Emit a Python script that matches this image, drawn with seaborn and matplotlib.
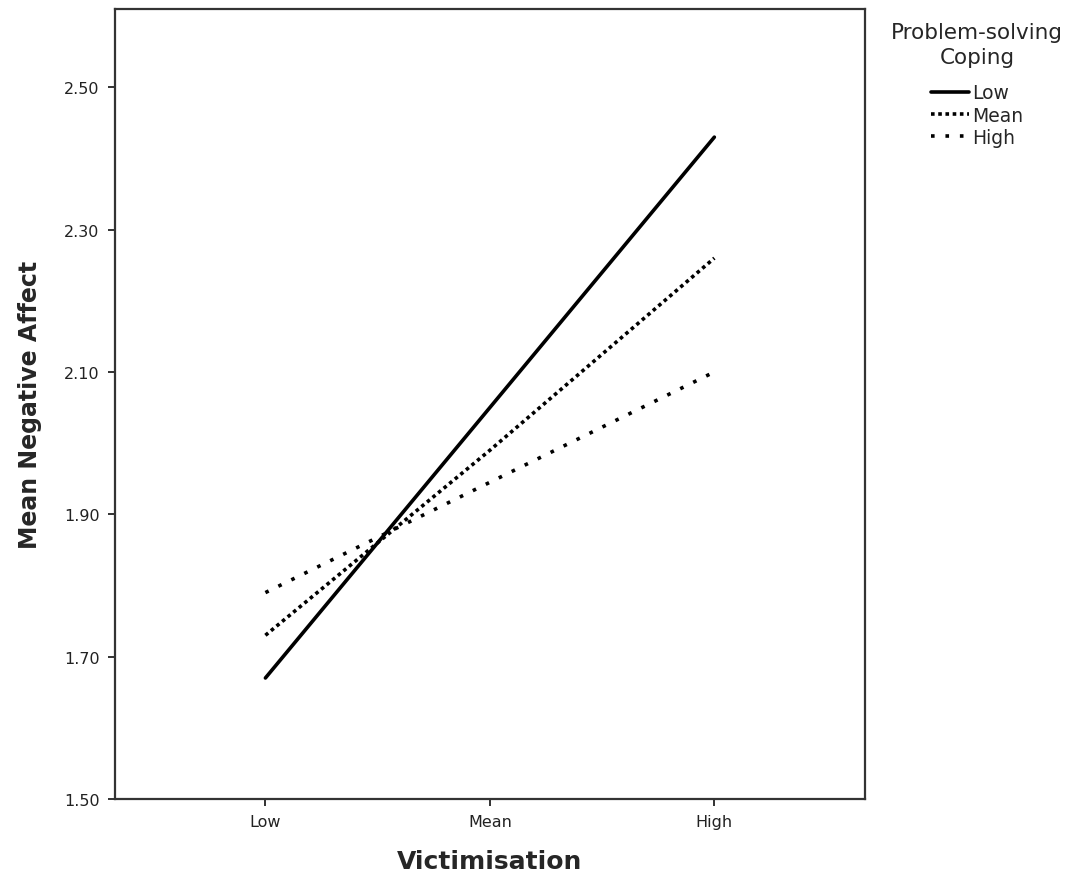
import pandas as pd
import seaborn as sns
import matplotlib
matplotlib.use("Agg")
import matplotlib.pyplot as plt

# Data
victimisation = ["Low", "Mean", "High"]
coping_levels = ["Low", "Mean", "High"]
affect_low_coping = [1.67, 2.05, 2.43]
affect_mean_coping = [1.73, 1.99, 2.26]
affect_high_coping = [1.79, 1.945, 2.10]
y_ticks = [1.50, 1.70, 1.90, 2.10, 2.30, 2.50]

df = pd.DataFrame({
    "Victimisation": victimisation * 3,
    "Coping": [c for c in coping_levels for _ in victimisation],
    "Affect": affect_low_coping + affect_mean_coping + affect_high_coping,
})

sns.set_style("white")
plt.rcParams["font.family"] = ["DejaVu Sans"]

fig = plt.figure(figsize=(10.85, 8.79), dpi=100)
ax = fig.add_axes([0.106, 0.0899, 0.691, 0.8987])

sns.lineplot(
    data=df, x="Victimisation", y="Affect", hue="Coping", style="Coping",
    palette={"Low": "black", "Mean": "black", "High": "black"},
    dashes={"Low": "", "Mean": (1, 1), "High": (1, 3)},
    hue_order=coping_levels, style_order=coping_levels,
    linewidth=2.6, ax=ax, sort=False,
)

ax.set_xlim(-0.67, 2.67)
ax.set_ylim(1.50, 2.61)
ax.set_yticks(y_ticks)
ax.set_yticklabels([f"{v:.2f}" for v in y_ticks])
ax.tick_params(axis="both", direction="out", length=5, width=1.3, pad=6,
               labelsize=11.5, colors="#222222", left=True, bottom=True)
ax.set_xlabel("Victimisation", fontsize=18, fontweight="bold", labelpad=14)
ax.set_ylabel("Mean Negative Affect", fontsize=17, fontweight="bold", labelpad=16)

for s in ax.spines.values():
    s.set_visible(True)
    s.set_color("#333333")
    s.set_linewidth(1.6)

handles, labels = ax.get_legend_handles_labels()
for h in handles:
    h.set_linewidth(2.6)
leg = ax.legend(handles, labels, title="Problem-solving\nCoping", loc="upper center",
                bbox_to_anchor=(0.9005, 0.974), bbox_transform=fig.transFigure,
                frameon=False, fontsize=13.5, title_fontsize=15.5,
                handlelength=2.0, handletextpad=0.15, labelspacing=0.17,
                borderaxespad=0, borderpad=0)
leg.get_title().set_multialignment("center")
leg.get_title().set_linespacing(1.3)
leg._legend_box.sep = 12

fig.savefig("out.png", dpi=100)
